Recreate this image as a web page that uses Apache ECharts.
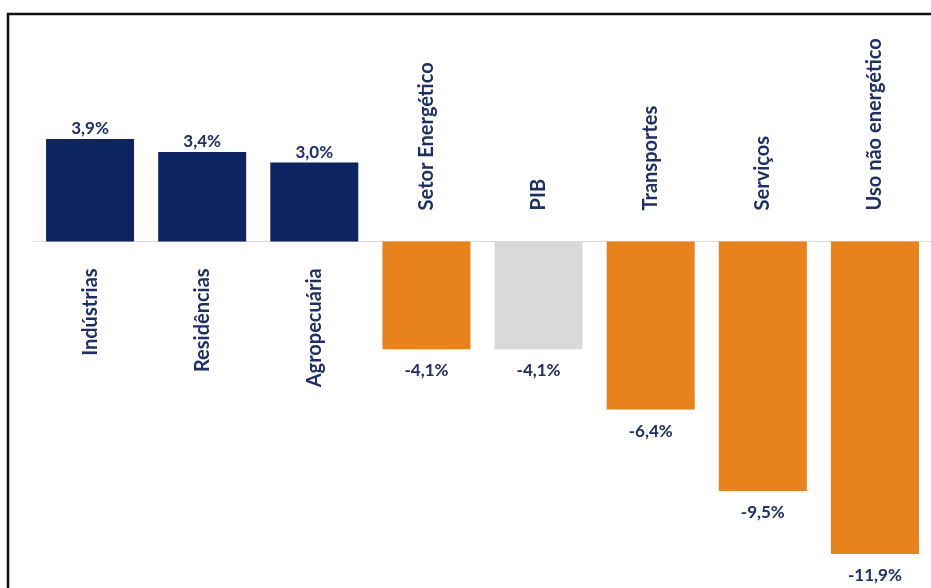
<!DOCTYPE html>
<html>
<head>
<meta charset="utf-8">
<script src="https://cdn.jsdelivr.net/npm/echarts@6/dist/echarts.min.js"></script>
<style>
  html, body { margin: 0; padding: 0; background: #fff; }
  #chart { width: 931px; height: 588px; }
</style>
</head>
<body>
<div id="chart"></div>
<script>
// setores e variação (%)
const categories = ['Indústrias', 'Residências', 'Agropecuária', 'Setor Energético', 'PIB', 'Transportes', 'Serviços', 'Uso não energético'];
const values = [3.9, 3.4, 3.0, -4.1, -4.1, -6.4, -9.5, -11.9];

const NAVY = '#0c2461';
const ORANGE = '#e8821a';
const GRAY = '#d9d9d9';
const TEXT = '#1c2f66';
const FONT = 'Lato, "Liberation Sans", sans-serif';

const chart = echarts.init(document.getElementById('chart'));

const fmt = v => v.toFixed(1).replace('.', ',') + '%';

const option = {
  animation: false,
  grid: { left: 34, top: 110, width: 906, height: 473 },
  xAxis: {
    type: 'category',
    data: categories,
    axisLine: { onZero: true, lineStyle: { color: '#d9d9d9', width: 1 } },
    axisTick: { show: false },
    axisLabel: { show: false }
  },
  yAxis: {
    type: 'value',
    min: -13,
    max: 5,
    show: false,
    splitLine: { show: false }
  },
  graphic: [{
    type: 'rect',
    shape: { x: 8, y: 14, width: 960, height: 620 },
    style: { fill: 'none', stroke: '#111', lineWidth: 2.5 },
    silent: true
  }],
  series: [
    {
      type: 'bar',
      barWidth: 88,
      itemStyle: {
        color: p => categories[p.dataIndex] === 'PIB' ? GRAY : (p.value >= 0 ? NAVY : ORANGE)
      },
      label: {
        show: true,
        color: TEXT,
        fontFamily: FONT,
        fontWeight: 'bold',
        fontSize: 17,
        formatter: p => fmt(p.value)
      },
      data: values.map(v => ({
        value: v,
        label: { position: v >= 0 ? 'top' : 'bottom', distance: v >= 0 ? 2 : 13 }
      }))
    },
    {
      // nomes das categorias, rotacionados junto à linha do zero
      type: 'custom',
      silent: true,
      data: values.map((v, i) => [i, v]),
      renderItem: (params, api) => {
        const i = api.value(0);
        const v = api.value(1);
        const pt = api.coord([i, 0]);
        const pos = v >= 0;
        return {
          type: 'text',
          x: pt[0],
          y: pos ? pt[1] + 27 : pt[1] - 31,
          rotation: Math.PI / 2,
          style: {
            text: categories[i],
            fill: TEXT,
            font: 'bold 20px ' + FONT,
            align: pos ? 'right' : 'left',
            verticalAlign: 'middle'
          }
        };
      }
    }
  ]
};

chart.setOption(option);
window.addEventListener('resize', () => chart.resize());
</script>
</body>
</html>
